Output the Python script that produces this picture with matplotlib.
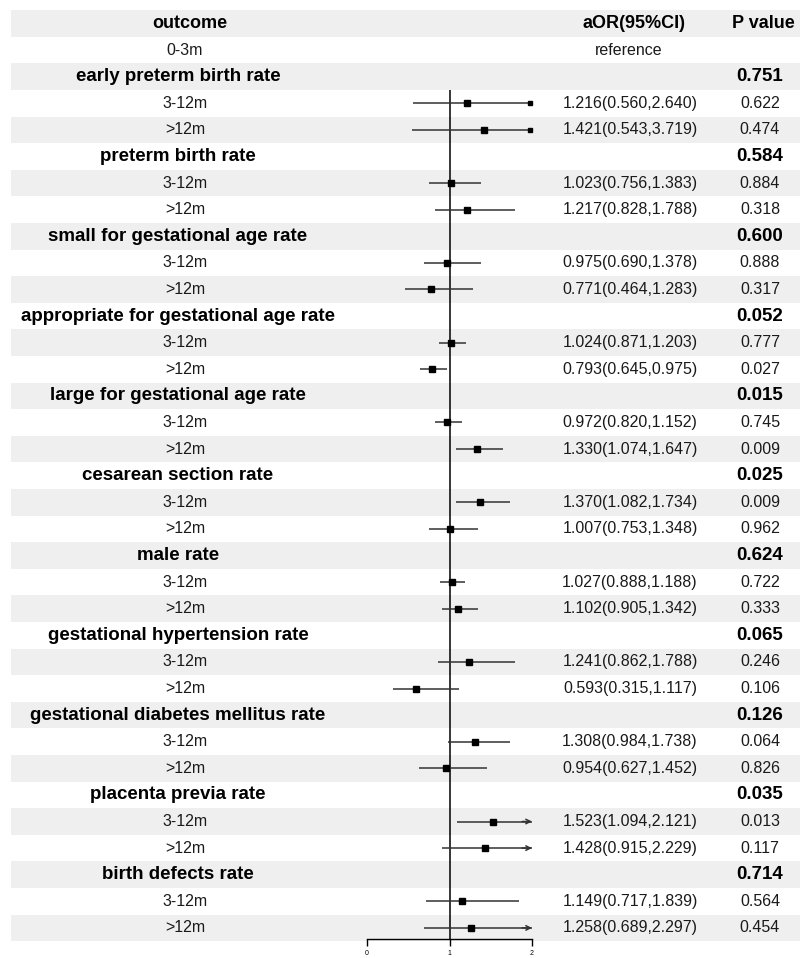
import numpy as np
import matplotlib.pyplot as plt

plt.rcParams['font.family'] = ['Liberation Sans', 'DejaVu Sans']

groups = ["early preterm birth rate", "preterm birth rate", "small for gestational age rate",
          "appropriate for gestational age rate", "large for gestational age rate",
          "cesarean section rate", "male rate", "gestational hypertension rate",
          "gestational diabetes mellitus rate", "placenta previa rate", "birth defects rate"]
group_p = ["0.751", "0.584", "0.600", "0.052", "0.015", "0.025", "0.624", "0.065", "0.126", "0.035", "0.714"]

sub_labels = ["3-12m", ">12m"]
est_a = [1.216, 1.023, 0.975, 1.024, 0.972, 1.370, 1.027, 1.241, 1.308, 1.523, 1.149]
lo_a = [0.560, 0.756, 0.690, 0.871, 0.820, 1.082, 0.888, 0.862, 0.984, 1.094, 0.717]
hi_a = [2.640, 1.383, 1.378, 1.203, 1.152, 1.734, 1.188, 1.788, 1.738, 2.121, 1.839]
p_a = ["0.622", "0.884", "0.888", "0.777", "0.745", "0.009", "0.722", "0.246", "0.064", "0.013", "0.564"]
est_b = [1.421, 1.217, 0.771, 0.793, 1.330, 1.007, 1.102, 0.593, 0.954, 1.428, 1.258]
lo_b = [0.543, 0.828, 0.464, 0.645, 1.074, 0.753, 0.905, 0.315, 0.627, 0.915, 0.689]
hi_b = [3.719, 1.788, 1.283, 0.975, 1.647, 1.348, 1.342, 1.117, 1.452, 2.229, 2.297]
p_b = ["0.474", "0.318", "0.317", "0.027", "0.009", "0.962", "0.333", "0.106", "0.826", "0.117", "0.454"]

xticks = [0, 1, 2]
xmax = 2

# build the rows
rows = []  # (kind, label, est, lo, hi, p)
rows.append(("header", "outcome", None, None, None, "P value"))
rows.append(("ref", "0-3m", None, None, None, ""))
for i, g in enumerate(groups):
    rows.append(("group", g, None, None, None, group_p[i]))
    rows.append(("sub", sub_labels[0], est_a[i], lo_a[i], hi_a[i], p_a[i]))
    rows.append(("sub", sub_labels[1], est_b[i], lo_b[i], hi_b[i], p_b[i]))
n = len(rows)

W, H = 800, 958
fig = plt.figure(figsize=(W / 100, H / 100), dpi=100)
y0, step = 23.5, 26.6
ytop = -y0 / step
ybot = (H - y0) / step

bg = fig.add_axes([0, 0, 1, 1])
bg.set_xlim(0, W)
bg.set_ylim(ybot, ytop)
bg.axis('off')

for i in range(n):
    if i % 2 == 0:
        bg.fill_between([11, W], i - 0.5, i + 0.5, color='#EFEFEF', lw=0)

txt = '#1a1a1a'
fs_body, fs_bold = 11.5, 13.5
for i, (kind, lab, e, l, h, p) in enumerate(rows):
    if kind == "header":
        bg.text(190, i, lab, ha='center', va='center', fontsize=13, fontweight='bold')
        bg.text(634, i, "aOR(95%CI)", ha='center', va='center', fontsize=13, fontweight='bold')
        bg.text(763, i, p, ha='center', va='center', fontsize=13, fontweight='bold')
    elif kind == "ref":
        bg.text(185, i, lab, ha='center', va='center', fontsize=fs_body, color=txt)
        bg.text(629, i, "reference", ha='center', va='center', fontsize=fs_body, color=txt)
    elif kind == "group":
        bg.text(178, i, lab, ha='center', va='center', fontsize=fs_bold, fontweight='bold')
        bg.text(760, i, p, ha='center', va='center', fontsize=fs_bold, fontweight='bold')
    else:
        bg.text(185, i, lab, ha='center', va='center', fontsize=fs_body, color=txt)
        bg.text(630, i, f"{e:.3f}({l:.3f},{h:.3f})", ha='center', va='center', fontsize=fs_body, color=txt)
        bg.text(760, i, p, ha='center', va='center', fontsize=fs_body, color=txt)

# forest panel
ax = fig.add_axes([367 / W, 0, 165 / W, 1])
ax.set_xlim(0, xmax)
ax.set_ylim(ybot, ytop)
ax.patch.set_alpha(0)
for s in ['top', 'left', 'right']:
    ax.spines[s].set_visible(False)
axis_y = (939 - y0) / step
ax.spines['bottom'].set_position(('data', axis_y))
ax.spines['bottom'].set_bounds(0, xmax)
ax.spines['bottom'].set_linewidth(1)
ax.set_yticks([])
ax.set_xticks(xticks)
ax.tick_params(axis='x', direction='out', length=5, width=1, labelsize=5, pad=3)

ax.vlines(1, 2.5, axis_y, color='black', lw=1.1, zorder=2)

for i, (kind, lab, e, l, h, p) in enumerate(rows):
    if kind != "sub":
        continue
    right = min(h, xmax)
    ax.hlines(i, l, right, color='#333333', lw=1.1, zorder=3)
    ax.plot(e, i, marker='s', ms=4.6, color='black', zorder=4)
    if h > xmax:
        if h > 2.5:
            ax.plot(xmax - 0.03, i, marker='s', ms=2.5, color='black', zorder=4, clip_on=False)
        else:
            ax.annotate("", xy=(xmax, i), xytext=(xmax - 0.12, i),
                        arrowprops=dict(arrowstyle='->', color='#333333', lw=1.1,
                                        shrinkA=0, shrinkB=0, mutation_scale=8),
                        annotation_clip=False)

fig.savefig("out.png", dpi=100)
